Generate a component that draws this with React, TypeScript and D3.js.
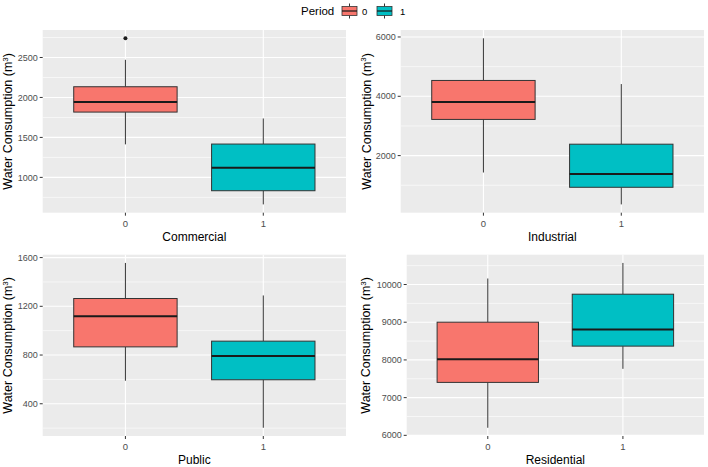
import React from "react";
import * as d3 from "d3";

const periods = ["0", "1"];
const periodColors = ["#F8766D", "#00BFC4"];
const sectors = ["Commercial", "Industrial", "Public", "Residential"];
// boxplot stats per sector: [period0, period1] each [whiskerLow, q1, median, q3, whiskerHigh]
const commercialStats = [
  [1413, 1817, 1942, 2134, 2471],
  [662, 833, 1120, 1417, 1737],
];
const industrialStats = [
  [1430, 3220, 3807, 4534, 5955],
  [355, 932, 1382, 2385, 4412],
];
const publicStats = [
  [589, 867, 1119, 1264, 1556],
  [203, 597, 793, 914, 1289],
];
const residentialStats = [
  [6201, 7404, 8021, 9001, 10159],
  [7764, 8366, 8808, 9743, 10572],
];
const commercialOutliers = [[2740], []];
const industrialOutliers = [[], []];
const publicOutliers = [[], []];
const residentialOutliers = [[], []];

const commercialTicks = [1000, 1500, 2000, 2500];
const commercialMinor = [750, 1250, 1750, 2250, 2750];
const industrialTicks = [2000, 4000, 6000];
const industrialMinor = [1000, 3000, 5000];
const publicTicks = [400, 800, 1200, 1600];
const publicMinor = [200, 600, 1000, 1400];
const residentialTicks = [6000, 7000, 8000, 9000, 10000];
const residentialMinor = [6500, 7500, 8500, 9500, 10500];

const FONT = "'Liberation Sans', Arial, sans-serif";

type PanelSpec = {
  name: string;
  stats: number[][];
  outliers: number[][];
  ticks: number[];
  minor: number[];
  x0: number;
  x1: number;
  y0: number;
  y1: number;
  yTitleX: number;
};

const panels: PanelSpec[] = [
  { name: sectors[0], stats: commercialStats, outliers: commercialOutliers, ticks: commercialTicks, minor: commercialMinor, x0: 42.7, x1: 346, y0: 30, y1: 212.7, yTitleX: 12 },
  { name: sectors[1], stats: industrialStats, outliers: industrialOutliers, ticks: industrialTicks, minor: industrialMinor, x0: 400.7, x1: 704, y0: 30, y1: 212.7, yTitleX: 370.5 },
  { name: sectors[2], stats: publicStats, outliers: publicOutliers, ticks: publicTicks, minor: publicMinor, x0: 42.7, x1: 346, y0: 254.7, y1: 436, yTitleX: 12 },
  { name: sectors[3], stats: residentialStats, outliers: residentialOutliers, ticks: residentialTicks, minor: residentialMinor, x0: 406.7, x1: 704, y0: 254.7, y1: 436, yTitleX: 370 },
];

const OUTLINE = "#333333";

function Panel({ p }: { p: PanelSpec }) {
  const all = p.stats.flat().concat(p.outliers.flat());
  const lo = d3.min(all)!;
  const hi = d3.max(all)!;
  const pad = (hi - lo) * 0.05;
  const y = d3.scaleLinear().domain([lo - pad, hi + pad]).range([p.y1, p.y0]);
  const x = d3.scalePoint<string>().domain(periods).range([p.x0, p.x1]).padding(0.6);
  const step = x.step();
  const bw = step * 0.75;
  const cy = (p.y0 + p.y1) / 2;
  const cx = (p.x0 + p.x1) / 2;
  return (
    <g>
      <rect x={p.x0} y={p.y0} width={p.x1 - p.x0} height={p.y1 - p.y0} fill="#EBEBEB" />
      {p.minor.map((v) => (
        <line key={"mi" + v} x1={p.x0} x2={p.x1} y1={y(v)} y2={y(v)} stroke="#fff" strokeWidth={0.6} />
      ))}
      {p.ticks.map((v) => (
        <line key={"ma" + v} x1={p.x0} x2={p.x1} y1={y(v)} y2={y(v)} stroke="#fff" strokeWidth={1.1} />
      ))}
      {periods.map((c) => (
        <line key={"vx" + c} x1={x(c)} x2={x(c)} y1={p.y0} y2={p.y1} stroke="#fff" strokeWidth={1.1} />
      ))}
      {periods.map((c, i) => {
        const s = p.stats[i];
        const xc = x(c)!;
        return (
          <g key={"b" + c}>
            <line x1={xc} x2={xc} y1={y(s[0])} y2={y(s[1])} stroke={OUTLINE} strokeWidth={1} />
            <line x1={xc} x2={xc} y1={y(s[3])} y2={y(s[4])} stroke={OUTLINE} strokeWidth={1} />
            <rect x={xc - bw / 2} y={y(s[3])} width={bw} height={y(s[1]) - y(s[3])} fill={periodColors[i]} stroke={OUTLINE} strokeWidth={1} />
            <line x1={xc - bw / 2} x2={xc + bw / 2} y1={y(s[2])} y2={y(s[2])} stroke="#1a1a1a" strokeWidth={2} />
            {p.outliers[i].map((o, j) => (
              <circle key={j} cx={xc} cy={y(o)} r={2} fill="#1a1a1a" />
            ))}
          </g>
        );
      })}
      {p.ticks.map((v) => (
        <g key={"t" + v}>
          <line x1={p.x0 - 3} x2={p.x0} y1={y(v)} y2={y(v)} stroke="#333" strokeWidth={1} />
          <text x={p.x0 - 5} y={y(v)} dy="0.35em" textAnchor="end" fontSize={9} fill="#4D4D4D" fontFamily={FONT}>{v}</text>
        </g>
      ))}
      {periods.map((c) => (
        <g key={"xt" + c}>
          <line x1={x(c)} x2={x(c)} y1={p.y1} y2={p.y1 + 3} stroke="#333" strokeWidth={1} />
          <text x={x(c)} y={p.y1 + 14} textAnchor="middle" fontSize={9.5} fill="#4D4D4D" fontFamily={FONT}>{c}</text>
        </g>
      ))}
      <text x={cx} y={p.y1 + 28} textAnchor="middle" fontSize={12} fill="#000" fontFamily={FONT}>{p.name}</text>
      <text transform={`translate(${p.yTitleX},${cy}) rotate(-90)`} textAnchor="middle" fontSize={12.5} fill="#000" fontFamily={FONT}>
        Water Consumption (m<tspan dy="-4.5" fontSize={8}>3</tspan><tspan dy="4.5">)</tspan>
      </text>
    </g>
  );
}

function LegendKey({ x0, color }: { x0: number; color: string }) {
  const w = 15;
  const xc = x0 + w / 2;
  return (
    <g>
      <line x1={xc} x2={xc} y1={3.5} y2={6.5} stroke={OUTLINE} strokeWidth={1} />
      <line x1={xc} x2={xc} y1={15.5} y2={18.5} stroke={OUTLINE} strokeWidth={1} />
      <rect x={x0} y={6.5} width={w} height={9} fill={color} stroke={OUTLINE} strokeWidth={0.8} />
      <line x1={x0} x2={x0 + w} y1={11} y2={11} stroke="#1a1a1a" strokeWidth={1.2} />
    </g>
  );
}

export default function App() {
  return (
    <svg width={708} height={467} style={{ display: "block", position: "absolute", left: 0, top: 0 }}>
      <rect width={708} height={467} fill="#fff" />
      <text x={301} y={15} fontSize={11.5} fontFamily={FONT} fill="#000">Period</text>
      <LegendKey x0={342} color={periodColors[0]} />
      <text x={362} y={15} fontSize={9.5} fontFamily={FONT} fill="#000">{periods[0]}</text>
      <LegendKey x0={377} color={periodColors[1]} />
      <text x={400} y={15} fontSize={9.5} fontFamily={FONT} fill="#000">{periods[1]}</text>
      {panels.map((p) => (
        <Panel key={p.name} p={p} />
      ))}
    </svg>
  );
}
